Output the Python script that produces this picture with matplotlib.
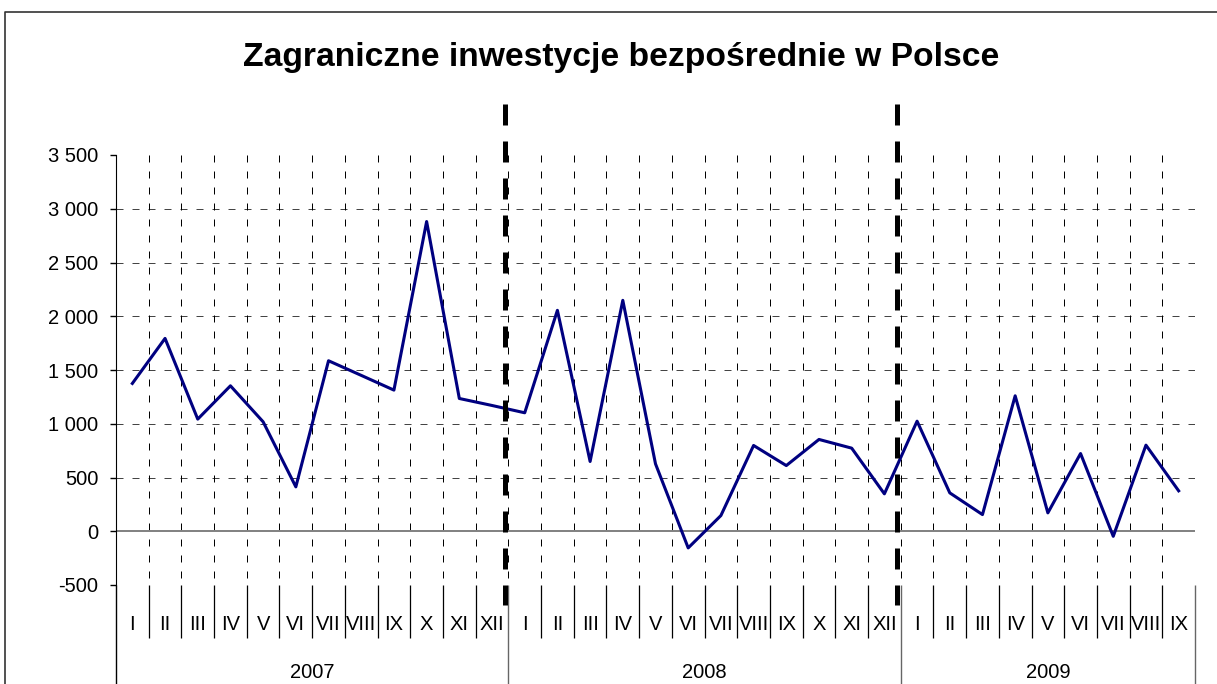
import numpy as np
import matplotlib
matplotlib.use("Agg")
import matplotlib.pyplot as plt
from matplotlib import font_manager
from matplotlib.lines import Line2D

# data (mln EUR, monthly)
years = ["2007", "2008", "2009"]
months = ["I", "II", "III", "IV", "V", "VI", "VII", "VIII", "IX", "X", "XI", "XII"]
fdi_2007 = [1375, 1794, 1043, 1353, 1018, 413, 1586, 1450, 1313, 2881, 1235, 1170]
fdi_2008 = [1102, 2055, 649, 2148, 627, -155, 146, 798, 611, 854, 773, 348]
fdi_2009 = [1024, 357, 155, 1260, 171, 723, -47, 801, 376]
y_ticks = [-500, 0, 500, 1000, 1500, 2000, 2500, 3000, 3500]
title = "Zagraniczne inwestycje bezpośrednie w Polsce"

# narrow Arial-like face if available (reference text is horizontally squeezed)
names = {f.name for f in font_manager.fontManager.ttflist}
if "Liberation Sans Narrow" in names:
    family, tick_fs = "Liberation Sans Narrow", 17.5
else:
    family, tick_fs = "Liberation Sans", 14.5
plt.rcParams["font.family"] = [family, "DejaVu Sans"]

W, H = 1217, 684
fig = plt.figure(figsize=(W / 100, H / 100), dpi=100)
ax = fig.add_axes([116 / W, 1 - 585 / H, (1195 - 116) / W, 430 / H])

series = [fdi_2007, fdi_2008, fdi_2009]
values = np.concatenate(series)
x = np.arange(len(values))
month_labels = [m for s in series for m in months[:len(s)]]

ax.set_xlim(-0.5, len(values) - 0.5)
ax.set_ylim(y_ticks[0], y_ticks[-1])

# dashed grid
grid_ls = (0, (7, 9))
for v in y_ticks:
    if v not in (0, y_ticks[-1]):
        col = "#bbbbbb" if v == y_ticks[0] else "#444444"
        ax.axhline(v, color=col, lw=0.72, ls=grid_ls, zorder=1)
xt = ax.get_xaxis_transform()
# draw top -> bottom so dashes start at the top edge
ax.vlines(np.arange(0.5, len(values), 1), 1, 0, transform=xt, color="black",
          lw=0.72, linestyles=[grid_ls], zorder=1)
ax.axhline(0, color="#808080", lw=1.4, zorder=2)

ax.plot(x, values, color="#000080", lw=2.2, solid_joinstyle="round", zorder=5)

for side in ["top", "right", "bottom"]:
    ax.spines[side].set_visible(False)
ax.spines["left"].set_color("black")

ax.set_yticks(y_ticks, [f"{v:,}".replace(",", " ") for v in y_ticks])
ax.tick_params(axis="y", length=4, width=1, pad=8.6, labelsize=tick_fs)
ax.set_xticks(x, month_labels)
ax.tick_params(axis="x", length=0, pad=21.5, labelsize=tick_fs)

# multi-level category axis below the plot
edges = np.cumsum([0] + [len(s) for s in series]) - 0.5
inner = [b for b in np.arange(0.5, len(values) - 1, 1) if b not in edges]
ax.vlines(inner, -0.123, 0, transform=xt, clip_on=False, color="black", lw=0.9)
ax.vlines(edges[1:], -0.3, 0, transform=xt, clip_on=False, color="#666666", lw=1.0)
ax.vlines(edges[0], -0.3, 0, transform=xt, clip_on=False, color="black", lw=1.0)
for yr, lo, hi in zip(years, edges[:-1], edges[1:]):
    ax.text((lo + hi) / 2, -0.204, yr, transform=xt, ha="center", va="center",
            fontsize=tick_fs)

# thick dashed year dividers
for b in edges[1:-1]:
    ax.vlines(b - 0.1, 1.119, -0.047, transform=xt, clip_on=False, color="black",
              lw=3.6, linestyles=[(0, (4.2, 3.2))], zorder=6)

# chart area frame (only top and left visible)
fig.add_artist(Line2D([5 / W, 5 / W, 1], [0, 1 - 12 / H, 1 - 12 / H],
                      transform=fig.transFigure, color="#333333", lw=1.2))

t = fig.text(621 / W, 1 - 66 / H, title, ha="center", va="baseline",
             fontsize=28, fontweight="bold")
fig.canvas.draw()
w = t.get_window_extent().width
t.set_fontsize(28 * 755 / w)

fig.savefig("out.png", dpi=100)
